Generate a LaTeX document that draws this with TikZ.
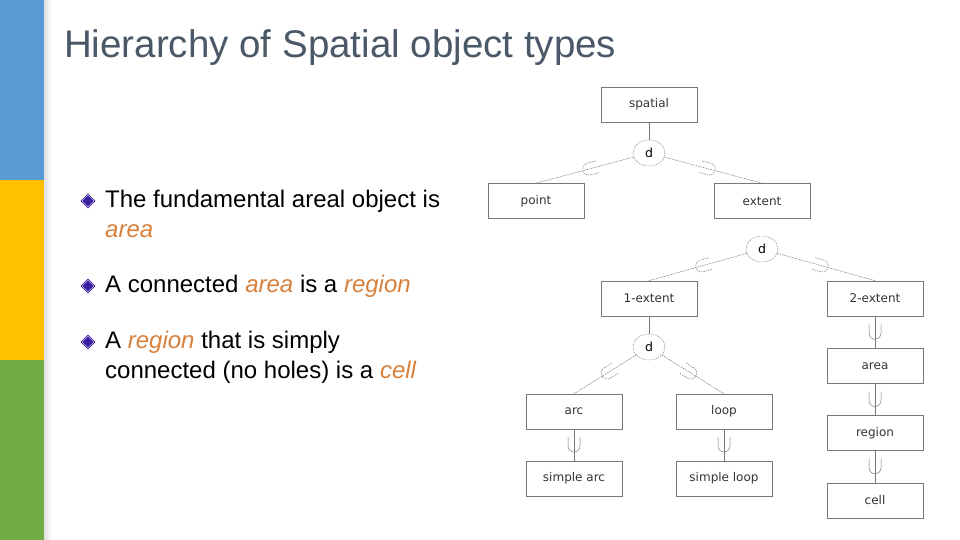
\documentclass[tikz,border=0pt]{standalone}
\usepackage{fontspec}
\setmainfont{Liberation Sans}
\newfontfamily\diafont{DejaVu Sans}
\usetikzlibrary{shapes.geometric}
\definecolor{barblue}{HTML}{5B9BD5}
\definecolor{baryel}{HTML}{FFC000}
\definecolor{bargreen}{HTML}{70AD47}
\definecolor{titlec}{HTML}{4A5868}
\definecolor{orng}{HTML}{D9813B}
\definecolor{bul}{HTML}{3A1FA0}
\definecolor{boxc}{HTML}{777777}
\tikzset{
  tbox/.style={draw=boxc,line width=0.6pt,minimum width=96pt,minimum height=35pt,inner sep=0pt,font=\diafont\fontsize{12}{12}\selectfont,text=black!80},
  dnode/.style={draw=boxc,dashed,dash pattern=on 1.5pt off 1pt,ellipse,minimum width=32pt,minimum height=26pt,inner sep=0pt,font=\diafont\fontsize{12.5}{12}\selectfont},
  dl/.style={draw=boxc,dash pattern=on 1.5pt off 1pt,line width=0.5pt},
  sl/.style={draw=boxc,line width=0.6pt},
  subs/.pic={\draw[boxc,line width=0.5pt] (-8,-6) -- (1,-6) arc[start angle=-90,end angle=90,radius=6] -- (-8,6);},
  btxt/.style={anchor=west,font=\fontsize{24}{30}\selectfont,align=left,inner sep=0pt},
  bmark/.style={diamond,fill=bul,draw=white,double=bul,inner sep=0pt,minimum size=14pt}
}
\begin{document}
\begin{tikzpicture}[x=1pt,y=-1pt]
\useasboundingbox (0,0) rectangle (960,540);
\fill[white] (0,0) rectangle (960,540);
% side bars
\fill[barblue] (0,0) rectangle (44,180);
\fill[baryel] (0,180) rectangle (44,360);
\fill[bargreen] (0,360) rectangle (44,540);
\shade[left color=black!12,right color=white] (44,0) rectangle (52,540);
% title
\node[anchor=west,text=titlec,font=\fontsize{38.5}{44}\selectfont,inner sep=0pt] (title) at (64,48) {Hierarchy of Spatial object types};
% bullets
\node[bmark] (b1) at (88,201) {};
\node[btxt] (t1) at (105,201) {The fundamental areal object is};
\node[btxt,text=orng,font=\fontsize{24}{30}\selectfont\itshape] (t1b) at (105,231) {area};
\node[bmark] (b2) at (88,286) {};
\node[btxt] (t2) at (105,286) {A connected \textcolor{orng}{\itshape area} is a \textcolor{orng}{\itshape region}};
\node[bmark] (b3) at (88,342) {};
\node[btxt] (t3) at (105,342) {A \textcolor{orng}{\itshape region} that is simply};
\node[btxt] (t3b) at (105,372) {connected (no holes) is a \textcolor{orng}{\itshape cell}};
% boxes
\node[tbox] (spatial) at (649,104.5) {spatial};
\node[tbox] (point) at (536,201) {point};
\node[tbox] (extent) at (762,201) {extent};
\node[tbox] (ext1) at (649,298.5) {1-extent};
\node[tbox] (ext2) at (875,298.5) {2-extent};
\node[tbox] (arc) at (574,411.5) {arc};
\node[tbox] (loop) at (724,411.5) {loop};
\node[tbox] (sarc) at (574,478.5) {simple arc};
\node[tbox] (sloop) at (724,478.5) {simple loop};
\node[tbox] (area) at (875,366) {area};
\node[tbox] (region) at (875,433) {region};
\node[tbox] (cell) at (875,500.5) {cell};
% d nodes
\node[dnode] (d1) at (649,153) {d};
\node[dnode] (d2) at (762,249) {d};
\node[dnode] (d3) at (649,347) {d};
% connectors
\draw[sl] (spatial) -- (d1);
\draw[dl] (d1) -- (point.north) pic[pos=.45,sloped,allow upside down]{subs};
\draw[dl] (d1) -- (extent.north) pic[pos=.45,sloped,allow upside down]{subs};
\draw[boxc,double,double distance=1.5pt,line width=0.4pt] (extent) -- (d2);
\draw[dl] (d2) -- (ext1.north) pic[pos=.45,sloped,allow upside down]{subs};
\draw[dl] (d2) -- (ext2.north) pic[pos=.45,sloped,allow upside down]{subs};
\draw[sl] (ext1) -- (d3);
\draw[dl] (d3) -- (arc.north) pic[pos=.45,sloped,allow upside down]{subs};
\draw[dl] (d3) -- (loop.north) pic[pos=.45,sloped,allow upside down]{subs};
\draw[sl] (arc) -- (sarc) pic[pos=.5,sloped,allow upside down]{subs};
\draw[sl] (loop) -- (sloop) pic[pos=.5,sloped,allow upside down]{subs};
\draw[sl] (ext2) -- (area) pic[pos=.5,sloped,allow upside down]{subs};
\draw[sl] (area) -- (region) pic[pos=.5,sloped,allow upside down]{subs};
\draw[sl] (region) -- (cell) pic[pos=.5,sloped,allow upside down]{subs};
\end{tikzpicture}
\end{document}
